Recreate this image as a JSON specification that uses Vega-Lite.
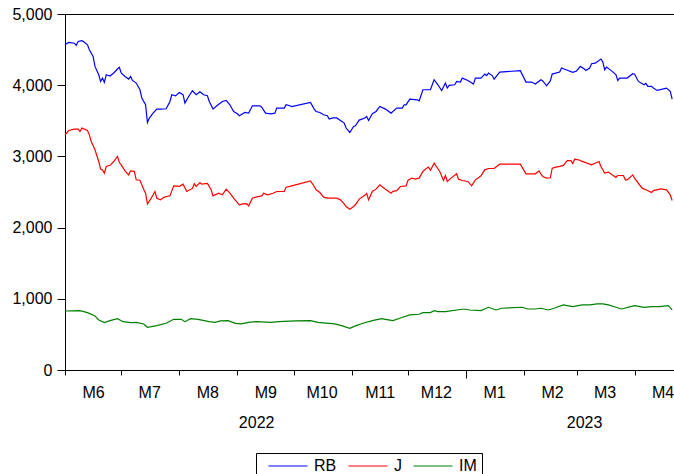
{
"$schema": "https://vega.github.io/schema/vega-lite/v6.json",
"width": 609, "height": 356,
"autosize": {"type": "none"},
"padding": {"left": 65, "top": 14, "right": 0, "bottom": 104},
"config": {"view": {"stroke": null}, "font": "Liberation Sans",
  "axis": {"labelFont": "Liberation Sans", "labelFontSize": 16, "labelColor": "black", "domainColor": "black", "tickColor": "black", "grid": false, "title": null, "domainWidth": 1, "tickWidth": 1}},
"data": {"values": [
{"s":"RB","d":"2022-06-01","v":4568},{"s":"RB","d":"2022-06-03","v":4601},{"s":"RB","d":"2022-06-06","v":4590},{"s":"RB","d":"2022-06-07","v":4559},{"s":"RB","d":"2022-06-08","v":4615},{"s":"RB","d":"2022-06-10","v":4625},{"s":"RB","d":"2022-06-11","v":4610},{"s":"RB","d":"2022-06-13","v":4568},{"s":"RB","d":"2022-06-14","v":4498},{"s":"RB","d":"2022-06-16","v":4404},{"s":"RB","d":"2022-06-17","v":4264},{"s":"RB","d":"2022-06-19","v":4147},{"s":"RB","d":"2022-06-20","v":4053},{"s":"RB","d":"2022-06-21","v":4100},{"s":"RB","d":"2022-06-22","v":4039},{"s":"RB","d":"2022-06-23","v":4147},{"s":"RB","d":"2022-06-25","v":4128},{"s":"RB","d":"2022-06-27","v":4171},{"s":"RB","d":"2022-06-29","v":4227},{"s":"RB","d":"2022-06-30","v":4250},
{"s":"RB","d":"2022-07-01","v":4171},{"s":"RB","d":"2022-07-03","v":4123},{"s":"RB","d":"2022-07-05","v":4086},{"s":"RB","d":"2022-07-06","v":4123},{"s":"RB","d":"2022-07-07","v":4067},{"s":"RB","d":"2022-07-09","v":4030},{"s":"RB","d":"2022-07-11","v":3936},{"s":"RB","d":"2022-07-12","v":3819},{"s":"RB","d":"2022-07-14","v":3725},{"s":"RB","d":"2022-07-15","v":3476},{"s":"RB","d":"2022-07-16","v":3538},{"s":"RB","d":"2022-07-18","v":3608},{"s":"RB","d":"2022-07-20","v":3664},{"s":"RB","d":"2022-07-22","v":3664},{"s":"RB","d":"2022-07-25","v":3669},{"s":"RB","d":"2022-07-27","v":3772},{"s":"RB","d":"2022-07-28","v":3866},{"s":"RB","d":"2022-07-30","v":3850},
{"s":"RB","d":"2022-08-01","v":3898},{"s":"RB","d":"2022-08-03","v":3866},{"s":"RB","d":"2022-08-04","v":3749},{"s":"RB","d":"2022-08-06","v":3842},{"s":"RB","d":"2022-08-08","v":3922},{"s":"RB","d":"2022-08-10","v":3866},{"s":"RB","d":"2022-08-12","v":3908},{"s":"RB","d":"2022-08-14","v":3866},{"s":"RB","d":"2022-08-16","v":3852},{"s":"RB","d":"2022-08-17","v":3772},{"s":"RB","d":"2022-08-19","v":3664},{"s":"RB","d":"2022-08-21","v":3711},{"s":"RB","d":"2022-08-24","v":3772},{"s":"RB","d":"2022-08-26","v":3786},{"s":"RB","d":"2022-08-28","v":3725},{"s":"RB","d":"2022-08-30","v":3631},
{"s":"RB","d":"2022-09-01","v":3598},{"s":"RB","d":"2022-09-02","v":3571},{"s":"RB","d":"2022-09-05","v":3617},{"s":"RB","d":"2022-09-07","v":3608},{"s":"RB","d":"2022-09-09","v":3711},{"s":"RB","d":"2022-09-13","v":3711},{"s":"RB","d":"2022-09-14","v":3690},{"s":"RB","d":"2022-09-16","v":3608},{"s":"RB","d":"2022-09-19","v":3598},{"s":"RB","d":"2022-09-21","v":3608},{"s":"RB","d":"2022-09-22","v":3678},{"s":"RB","d":"2022-09-26","v":3678},{"s":"RB","d":"2022-09-27","v":3725},{"s":"RB","d":"2022-09-29","v":3711},{"s":"RB","d":"2022-09-30","v":3700},
{"s":"RB","d":"2022-10-10","v":3758},{"s":"RB","d":"2022-10-12","v":3664},{"s":"RB","d":"2022-10-13","v":3631},{"s":"RB","d":"2022-10-15","v":3617},{"s":"RB","d":"2022-10-17","v":3585},{"s":"RB","d":"2022-10-19","v":3571},{"s":"RB","d":"2022-10-20","v":3524},{"s":"RB","d":"2022-10-22","v":3540},{"s":"RB","d":"2022-10-24","v":3540},{"s":"RB","d":"2022-10-26","v":3505},{"s":"RB","d":"2022-10-28","v":3468},{"s":"RB","d":"2022-10-29","v":3398},{"s":"RB","d":"2022-10-31","v":3336},
{"s":"RB","d":"2022-11-02","v":3420},{"s":"RB","d":"2022-11-03","v":3430},{"s":"RB","d":"2022-11-05","v":3510},{"s":"RB","d":"2022-11-08","v":3538},{"s":"RB","d":"2022-11-09","v":3561},{"s":"RB","d":"2022-11-10","v":3505},{"s":"RB","d":"2022-11-12","v":3599},{"s":"RB","d":"2022-11-14","v":3631},{"s":"RB","d":"2022-11-16","v":3701},{"s":"RB","d":"2022-11-19","v":3664},{"s":"RB","d":"2022-11-22","v":3608},{"s":"RB","d":"2022-11-25","v":3678},{"s":"RB","d":"2022-11-28","v":3678},{"s":"RB","d":"2022-11-29","v":3725},{"s":"RB","d":"2022-11-30","v":3725},
{"s":"RB","d":"2022-12-02","v":3805},{"s":"RB","d":"2022-12-06","v":3795},{"s":"RB","d":"2022-12-07","v":3780},{"s":"RB","d":"2022-12-09","v":3936},{"s":"RB","d":"2022-12-13","v":3936},{"s":"RB","d":"2022-12-15","v":4077},{"s":"RB","d":"2022-12-17","v":4006},{"s":"RB","d":"2022-12-19","v":3926},{"s":"RB","d":"2022-12-21","v":4030},{"s":"RB","d":"2022-12-22","v":3960},{"s":"RB","d":"2022-12-23","v":3997},{"s":"RB","d":"2022-12-26","v":4006},{"s":"RB","d":"2022-12-27","v":4053},{"s":"RB","d":"2022-12-29","v":4045},{"s":"RB","d":"2022-12-30","v":4100},
{"s":"RB","d":"2023-01-02","v":4067},{"s":"RB","d":"2023-01-05","v":4016},{"s":"RB","d":"2023-01-06","v":4100},{"s":"RB","d":"2023-01-09","v":4100},{"s":"RB","d":"2023-01-11","v":4156},{"s":"RB","d":"2023-01-12","v":4135},{"s":"RB","d":"2023-01-13","v":4171},{"s":"RB","d":"2023-01-15","v":4135},{"s":"RB","d":"2023-01-16","v":4086},{"s":"RB","d":"2023-01-19","v":4185},{"s":"RB","d":"2023-01-30","v":4203},
{"s":"RB","d":"2023-02-02","v":4044},{"s":"RB","d":"2023-02-05","v":4044},{"s":"RB","d":"2023-02-07","v":4016},{"s":"RB","d":"2023-02-10","v":4077},{"s":"RB","d":"2023-02-11","v":4060},{"s":"RB","d":"2023-02-13","v":3992},{"s":"RB","d":"2023-02-15","v":4060},{"s":"RB","d":"2023-02-16","v":4156},{"s":"RB","d":"2023-02-20","v":4185},{"s":"RB","d":"2023-02-21","v":4241},{"s":"RB","d":"2023-02-23","v":4220},{"s":"RB","d":"2023-02-27","v":4180},
{"s":"RB","d":"2023-03-01","v":4200},{"s":"RB","d":"2023-03-03","v":4264},{"s":"RB","d":"2023-03-05","v":4230},{"s":"RB","d":"2023-03-06","v":4208},{"s":"RB","d":"2023-03-08","v":4240},{"s":"RB","d":"2023-03-09","v":4301},{"s":"RB","d":"2023-03-11","v":4310},{"s":"RB","d":"2023-03-14","v":4367},{"s":"RB","d":"2023-03-15","v":4330},{"s":"RB","d":"2023-03-16","v":4217},{"s":"RB","d":"2023-03-17","v":4255},{"s":"RB","d":"2023-03-20","v":4194},{"s":"RB","d":"2023-03-22","v":4150},{"s":"RB","d":"2023-03-23","v":4067},{"s":"RB","d":"2023-03-24","v":4100},{"s":"RB","d":"2023-03-28","v":4100},{"s":"RB","d":"2023-03-31","v":4161},
{"s":"RB","d":"2023-04-01","v":4155},{"s":"RB","d":"2023-04-03","v":4053},{"s":"RB","d":"2023-04-06","v":4006},{"s":"RB","d":"2023-04-07","v":4025},{"s":"RB","d":"2023-04-08","v":3983},{"s":"RB","d":"2023-04-10","v":3983},{"s":"RB","d":"2023-04-11","v":3960},{"s":"RB","d":"2023-04-13","v":3927},{"s":"RB","d":"2023-04-18","v":3960},{"s":"RB","d":"2023-04-20","v":3913},{"s":"RB","d":"2023-04-21","v":3805},
{"s":"J","d":"2022-06-01","v":3303},{"s":"J","d":"2022-06-03","v":3364},{"s":"J","d":"2022-06-06","v":3383},{"s":"J","d":"2022-06-08","v":3383},{"s":"J","d":"2022-06-09","v":3350},{"s":"J","d":"2022-06-10","v":3397},{"s":"J","d":"2022-06-13","v":3364},{"s":"J","d":"2022-06-14","v":3303},{"s":"J","d":"2022-06-15","v":3209},{"s":"J","d":"2022-06-17","v":3093},{"s":"J","d":"2022-06-19","v":2928},{"s":"J","d":"2022-06-20","v":2821},{"s":"J","d":"2022-06-21","v":2810},{"s":"J","d":"2022-06-22","v":2765},{"s":"J","d":"2022-06-23","v":2858},{"s":"J","d":"2022-06-25","v":2875},{"s":"J","d":"2022-06-27","v":2928},{"s":"J","d":"2022-06-29","v":2999},{"s":"J","d":"2022-06-30","v":2914},
{"s":"J","d":"2022-07-01","v":2880},{"s":"J","d":"2022-07-03","v":2797},{"s":"J","d":"2022-07-05","v":2741},{"s":"J","d":"2022-07-06","v":2797},{"s":"J","d":"2022-07-08","v":2790},{"s":"J","d":"2022-07-09","v":2671},{"s":"J","d":"2022-07-11","v":2665},{"s":"J","d":"2022-07-13","v":2540},{"s":"J","d":"2022-07-14","v":2483},{"s":"J","d":"2022-07-15","v":2333},{"s":"J","d":"2022-07-17","v":2413},{"s":"J","d":"2022-07-19","v":2507},{"s":"J","d":"2022-07-20","v":2413},{"s":"J","d":"2022-07-22","v":2390},{"s":"J","d":"2022-07-24","v":2428},{"s":"J","d":"2022-07-27","v":2446},{"s":"J","d":"2022-07-29","v":2587},
{"s":"J","d":"2022-08-01","v":2580},{"s":"J","d":"2022-08-03","v":2610},{"s":"J","d":"2022-08-05","v":2507},{"s":"J","d":"2022-08-08","v":2550},{"s":"J","d":"2022-08-09","v":2615},{"s":"J","d":"2022-08-10","v":2580},{"s":"J","d":"2022-08-12","v":2633},{"s":"J","d":"2022-08-13","v":2610},{"s":"J","d":"2022-08-16","v":2620},{"s":"J","d":"2022-08-18","v":2531},{"s":"J","d":"2022-08-19","v":2446},{"s":"J","d":"2022-08-22","v":2483},{"s":"J","d":"2022-08-24","v":2460},{"s":"J","d":"2022-08-26","v":2540},{"s":"J","d":"2022-08-28","v":2483},{"s":"J","d":"2022-08-30","v":2413},
{"s":"J","d":"2022-09-02","v":2319},{"s":"J","d":"2022-09-04","v":2333},{"s":"J","d":"2022-09-06","v":2338},{"s":"J","d":"2022-09-07","v":2305},{"s":"J","d":"2022-09-09","v":2413},{"s":"J","d":"2022-09-12","v":2436},{"s":"J","d":"2022-09-14","v":2446},{"s":"J","d":"2022-09-15","v":2483},{"s":"J","d":"2022-09-17","v":2460},{"s":"J","d":"2022-09-20","v":2483},{"s":"J","d":"2022-09-22","v":2507},{"s":"J","d":"2022-09-24","v":2507},{"s":"J","d":"2022-09-26","v":2507},{"s":"J","d":"2022-09-27","v":2568},{"s":"J","d":"2022-09-29","v":2578},
{"s":"J","d":"2022-10-10","v":2657},{"s":"J","d":"2022-10-12","v":2578},{"s":"J","d":"2022-10-13","v":2531},{"s":"J","d":"2022-10-15","v":2493},{"s":"J","d":"2022-10-17","v":2428},{"s":"J","d":"2022-10-19","v":2413},{"s":"J","d":"2022-10-22","v":2413},{"s":"J","d":"2022-10-24","v":2413},{"s":"J","d":"2022-10-26","v":2390},{"s":"J","d":"2022-10-28","v":2333},{"s":"J","d":"2022-10-29","v":2296},{"s":"J","d":"2022-10-31","v":2259},
{"s":"J","d":"2022-11-02","v":2296},{"s":"J","d":"2022-11-03","v":2320},{"s":"J","d":"2022-11-05","v":2400},{"s":"J","d":"2022-11-08","v":2453},{"s":"J","d":"2022-11-09","v":2480},{"s":"J","d":"2022-11-10","v":2390},{"s":"J","d":"2022-11-12","v":2507},{"s":"J","d":"2022-11-14","v":2540},{"s":"J","d":"2022-11-16","v":2601},{"s":"J","d":"2022-11-19","v":2540},{"s":"J","d":"2022-11-22","v":2483},{"s":"J","d":"2022-11-23","v":2510},{"s":"J","d":"2022-11-25","v":2520},{"s":"J","d":"2022-11-27","v":2577},{"s":"J","d":"2022-11-30","v":2585},
{"s":"J","d":"2022-12-01","v":2662},{"s":"J","d":"2022-12-03","v":2695},{"s":"J","d":"2022-12-05","v":2680},{"s":"J","d":"2022-12-07","v":2695},{"s":"J","d":"2022-12-09","v":2788},{"s":"J","d":"2022-12-11","v":2835},{"s":"J","d":"2022-12-12","v":2850},{"s":"J","d":"2022-12-13","v":2805},{"s":"J","d":"2022-12-15","v":2905},{"s":"J","d":"2022-12-18","v":2788},{"s":"J","d":"2022-12-20","v":2662},{"s":"J","d":"2022-12-21","v":2730},{"s":"J","d":"2022-12-22","v":2648},{"s":"J","d":"2022-12-24","v":2695},{"s":"J","d":"2022-12-27","v":2755},{"s":"J","d":"2022-12-28","v":2680},{"s":"J","d":"2022-12-30","v":2662},
{"s":"J","d":"2023-01-02","v":2648},{"s":"J","d":"2023-01-04","v":2587},{"s":"J","d":"2023-01-06","v":2671},{"s":"J","d":"2023-01-09","v":2727},{"s":"J","d":"2023-01-11","v":2811},{"s":"J","d":"2023-01-13","v":2830},{"s":"J","d":"2023-01-16","v":2830},{"s":"J","d":"2023-01-19","v":2891},{"s":"J","d":"2023-01-30","v":2891},
{"s":"J","d":"2023-02-02","v":2755},{"s":"J","d":"2023-02-07","v":2755},{"s":"J","d":"2023-02-09","v":2797},{"s":"J","d":"2023-02-10","v":2750},{"s":"J","d":"2023-02-11","v":2718},{"s":"J","d":"2023-02-13","v":2695},{"s":"J","d":"2023-02-15","v":2700},{"s":"J","d":"2023-02-16","v":2835},{"s":"J","d":"2023-02-18","v":2850},{"s":"J","d":"2023-02-20","v":2860},{"s":"J","d":"2023-02-22","v":2874},{"s":"J","d":"2023-02-24","v":2942},{"s":"J","d":"2023-02-26","v":2940},{"s":"J","d":"2023-02-27","v":2900},{"s":"J","d":"2023-02-28","v":2961},
{"s":"J","d":"2023-03-02","v":2952},{"s":"J","d":"2023-03-04","v":2930},{"s":"J","d":"2023-03-09","v":2882},{"s":"J","d":"2023-03-13","v":2928},{"s":"J","d":"2023-03-14","v":2858},{"s":"J","d":"2023-03-16","v":2765},{"s":"J","d":"2023-03-18","v":2780},{"s":"J","d":"2023-03-20","v":2741},{"s":"J","d":"2023-03-22","v":2704},{"s":"J","d":"2023-03-23","v":2732},{"s":"J","d":"2023-03-26","v":2732},{"s":"J","d":"2023-03-27","v":2671},{"s":"J","d":"2023-03-28","v":2671},{"s":"J","d":"2023-03-31","v":2741},
{"s":"J","d":"2023-04-01","v":2690},{"s":"J","d":"2023-04-05","v":2554},{"s":"J","d":"2023-04-07","v":2531},{"s":"J","d":"2023-04-10","v":2493},{"s":"J","d":"2023-04-11","v":2520},{"s":"J","d":"2023-04-15","v":2544},{"s":"J","d":"2023-04-18","v":2531},{"s":"J","d":"2023-04-20","v":2460},{"s":"J","d":"2023-04-21","v":2380},
{"s":"IM","d":"2022-06-01","v":829},{"s":"IM","d":"2022-06-09","v":834},{"s":"IM","d":"2022-06-13","v":806},{"s":"IM","d":"2022-06-17","v":759},{"s":"IM","d":"2022-06-19","v":703},{"s":"IM","d":"2022-06-22","v":665},{"s":"IM","d":"2022-06-25","v":693},{"s":"IM","d":"2022-06-29","v":721},
{"s":"IM","d":"2022-07-02","v":679},{"s":"IM","d":"2022-07-06","v":665},{"s":"IM","d":"2022-07-09","v":670},{"s":"IM","d":"2022-07-13","v":647},{"s":"IM","d":"2022-07-15","v":600},{"s":"IM","d":"2022-07-20","v":623},{"s":"IM","d":"2022-07-25","v":656},{"s":"IM","d":"2022-07-29","v":712},
{"s":"IM","d":"2022-08-02","v":712},{"s":"IM","d":"2022-08-04","v":679},{"s":"IM","d":"2022-08-07","v":721},{"s":"IM","d":"2022-08-11","v":712},{"s":"IM","d":"2022-08-17","v":679},{"s":"IM","d":"2022-08-20","v":670},{"s":"IM","d":"2022-08-23","v":689},{"s":"IM","d":"2022-08-27","v":693},{"s":"IM","d":"2022-08-31","v":656},
{"s":"IM","d":"2022-09-03","v":647},{"s":"IM","d":"2022-09-07","v":670},{"s":"IM","d":"2022-09-11","v":679},{"s":"IM","d":"2022-09-19","v":670},{"s":"IM","d":"2022-09-23","v":679},
{"s":"IM","d":"2022-10-02","v":689},{"s":"IM","d":"2022-10-10","v":693},{"s":"IM","d":"2022-10-14","v":670},{"s":"IM","d":"2022-10-23","v":647},{"s":"IM","d":"2022-10-27","v":619},{"s":"IM","d":"2022-10-31","v":586},
{"s":"IM","d":"2022-11-03","v":619},{"s":"IM","d":"2022-11-07","v":656},{"s":"IM","d":"2022-11-12","v":693},{"s":"IM","d":"2022-11-17","v":721},{"s":"IM","d":"2022-11-19","v":712},{"s":"IM","d":"2022-11-23","v":693},{"s":"IM","d":"2022-11-27","v":731},
{"s":"IM","d":"2022-12-02","v":773},{"s":"IM","d":"2022-12-07","v":783},{"s":"IM","d":"2022-12-09","v":806},{"s":"IM","d":"2022-12-13","v":806},{"s":"IM","d":"2022-12-15","v":834},{"s":"IM","d":"2022-12-17","v":820},{"s":"IM","d":"2022-12-21","v":820},{"s":"IM","d":"2022-12-30","v":853},
{"s":"IM","d":"2023-01-01","v":853},{"s":"IM","d":"2023-01-03","v":843},{"s":"IM","d":"2023-01-09","v":834},{"s":"IM","d":"2023-01-13","v":881},{"s":"IM","d":"2023-01-17","v":843},{"s":"IM","d":"2023-01-20","v":867},{"s":"IM","d":"2023-01-31","v":881},
{"s":"IM","d":"2023-02-03","v":857},{"s":"IM","d":"2023-02-07","v":857},{"s":"IM","d":"2023-02-10","v":867},{"s":"IM","d":"2023-02-14","v":843},{"s":"IM","d":"2023-02-17","v":867},{"s":"IM","d":"2023-02-22","v":914},{"s":"IM","d":"2023-02-24","v":904},{"s":"IM","d":"2023-02-27","v":890},
{"s":"IM","d":"2023-03-04","v":914},{"s":"IM","d":"2023-03-08","v":914},{"s":"IM","d":"2023-03-12","v":928},{"s":"IM","d":"2023-03-15","v":928},{"s":"IM","d":"2023-03-18","v":914},{"s":"IM","d":"2023-03-22","v":881},{"s":"IM","d":"2023-03-25","v":857},{"s":"IM","d":"2023-03-30","v":890},
{"s":"IM","d":"2023-04-01","v":904},{"s":"IM","d":"2023-04-06","v":881},{"s":"IM","d":"2023-04-10","v":890},{"s":"IM","d":"2023-04-14","v":890},{"s":"IM","d":"2023-04-19","v":904},{"s":"IM","d":"2023-04-21","v":843}
]},
"layer": [
{
"mark": {"type": "line", "strokeWidth": 1.2},
"encoding": {
 "x": {"field": "d", "type": "temporal",
   "scale": {"type": "utc", "domain": [{"year": 2022, "month": 6, "date": 1, "utc": true}, {"year": 2023, "month": 4, "date": 22, "utc": true}]},
   "axis": {"orient": "bottom",
     "values": [{"year":2022,"month":6,"date":1,"utc":true},{"year":2022,"month":7,"date":1,"utc":true},{"year":2022,"month":8,"date":1,"utc":true},{"year":2022,"month":9,"date":1,"utc":true},{"year":2022,"month":10,"date":1,"utc":true},{"year":2022,"month":11,"date":1,"utc":true},{"year":2022,"month":12,"date":1,"utc":true},{"year":2023,"month":1,"date":1,"utc":true},{"year":2023,"month":2,"date":1,"utc":true},{"year":2023,"month":3,"date":1,"utc":true},{"year":2023,"month":4,"date":1,"utc":true}],
     "labelExpr": "'M' + (utcmonth(datum.value) + 1)",
     "tickSize": 5, "labelPadding": 9, "labelOffset": 28, "labelAlign": "center", "labelFlush": false, "labelOverlap": false, "labelBound": false}},
 "y": {"field": "v", "type": "quantitative",
   "scale": {"domain": [0, 5000], "nice": false, "zero": true},
   "axis": {"values": [0, 1000, 2000, 3000, 4000, 5000], "labelExpr": "format(datum.value, ',.0f')", "tickSize": 8, "labelPadding": 5, "labelFlush": false}},
 "color": {"field": "s", "type": "nominal",
   "scale": {"domain": ["RB", "J", "IM"], "range": ["#0000FF", "#FF0000", "#008000"]},
   "legend": {"orient": "none", "legendX": 191, "legendY": 439, "direction": "horizontal", "title": null,
     "symbolType": "M-4,0H4", "symbolSize": 95, "symbolStrokeWidth": 1.2,
     "labelFont": "Liberation Sans", "labelFontSize": 16, "labelColor": "black",
     "labelOffset": 18, "symbolOffset": 19, "columnPadding": 4, "padding": 5,
     "strokeColor": "black", "fillColor": "white"}}
}
},
{
"mark": {"type": "rule", "opacity": 0},
"encoding": {"x": {"field": "d", "type": "temporal", "scale": {"type": "utc"},
  "axis": {"orient": "top", "labels": false, "ticks": false, "domain": true}}}
},
{
"mark": {"type": "rule", "opacity": 0},
"encoding": {"x": {"field": "d", "type": "temporal", "scale": {"type": "utc"},
  "axis": {"orient": "bottom", "domain": false, "ticks": false, "tickSize": 0, "labelPadding": 44, "labelFlush": false, "labelOverlap": false,
    "values": [{"year":2022,"month":9,"date":11,"utc":true},{"year":2023,"month":3,"date":5,"utc":true}],
    "labelExpr": "'' + utcyear(datum.value)"}}}
},
{
"mark": {"type": "rule", "opacity": 0},
"encoding": {"x": {"field": "d", "type": "temporal", "scale": {"type": "utc"},
  "axis": {"orient": "bottom", "domain": false, "labels": false, "ticks": true, "tickSize": 8,
    "values": [{"year":2023,"month":1,"date":1,"utc":true}]}}}
}
],
"resolve": {"axis": {"x": "independent"}}
}
